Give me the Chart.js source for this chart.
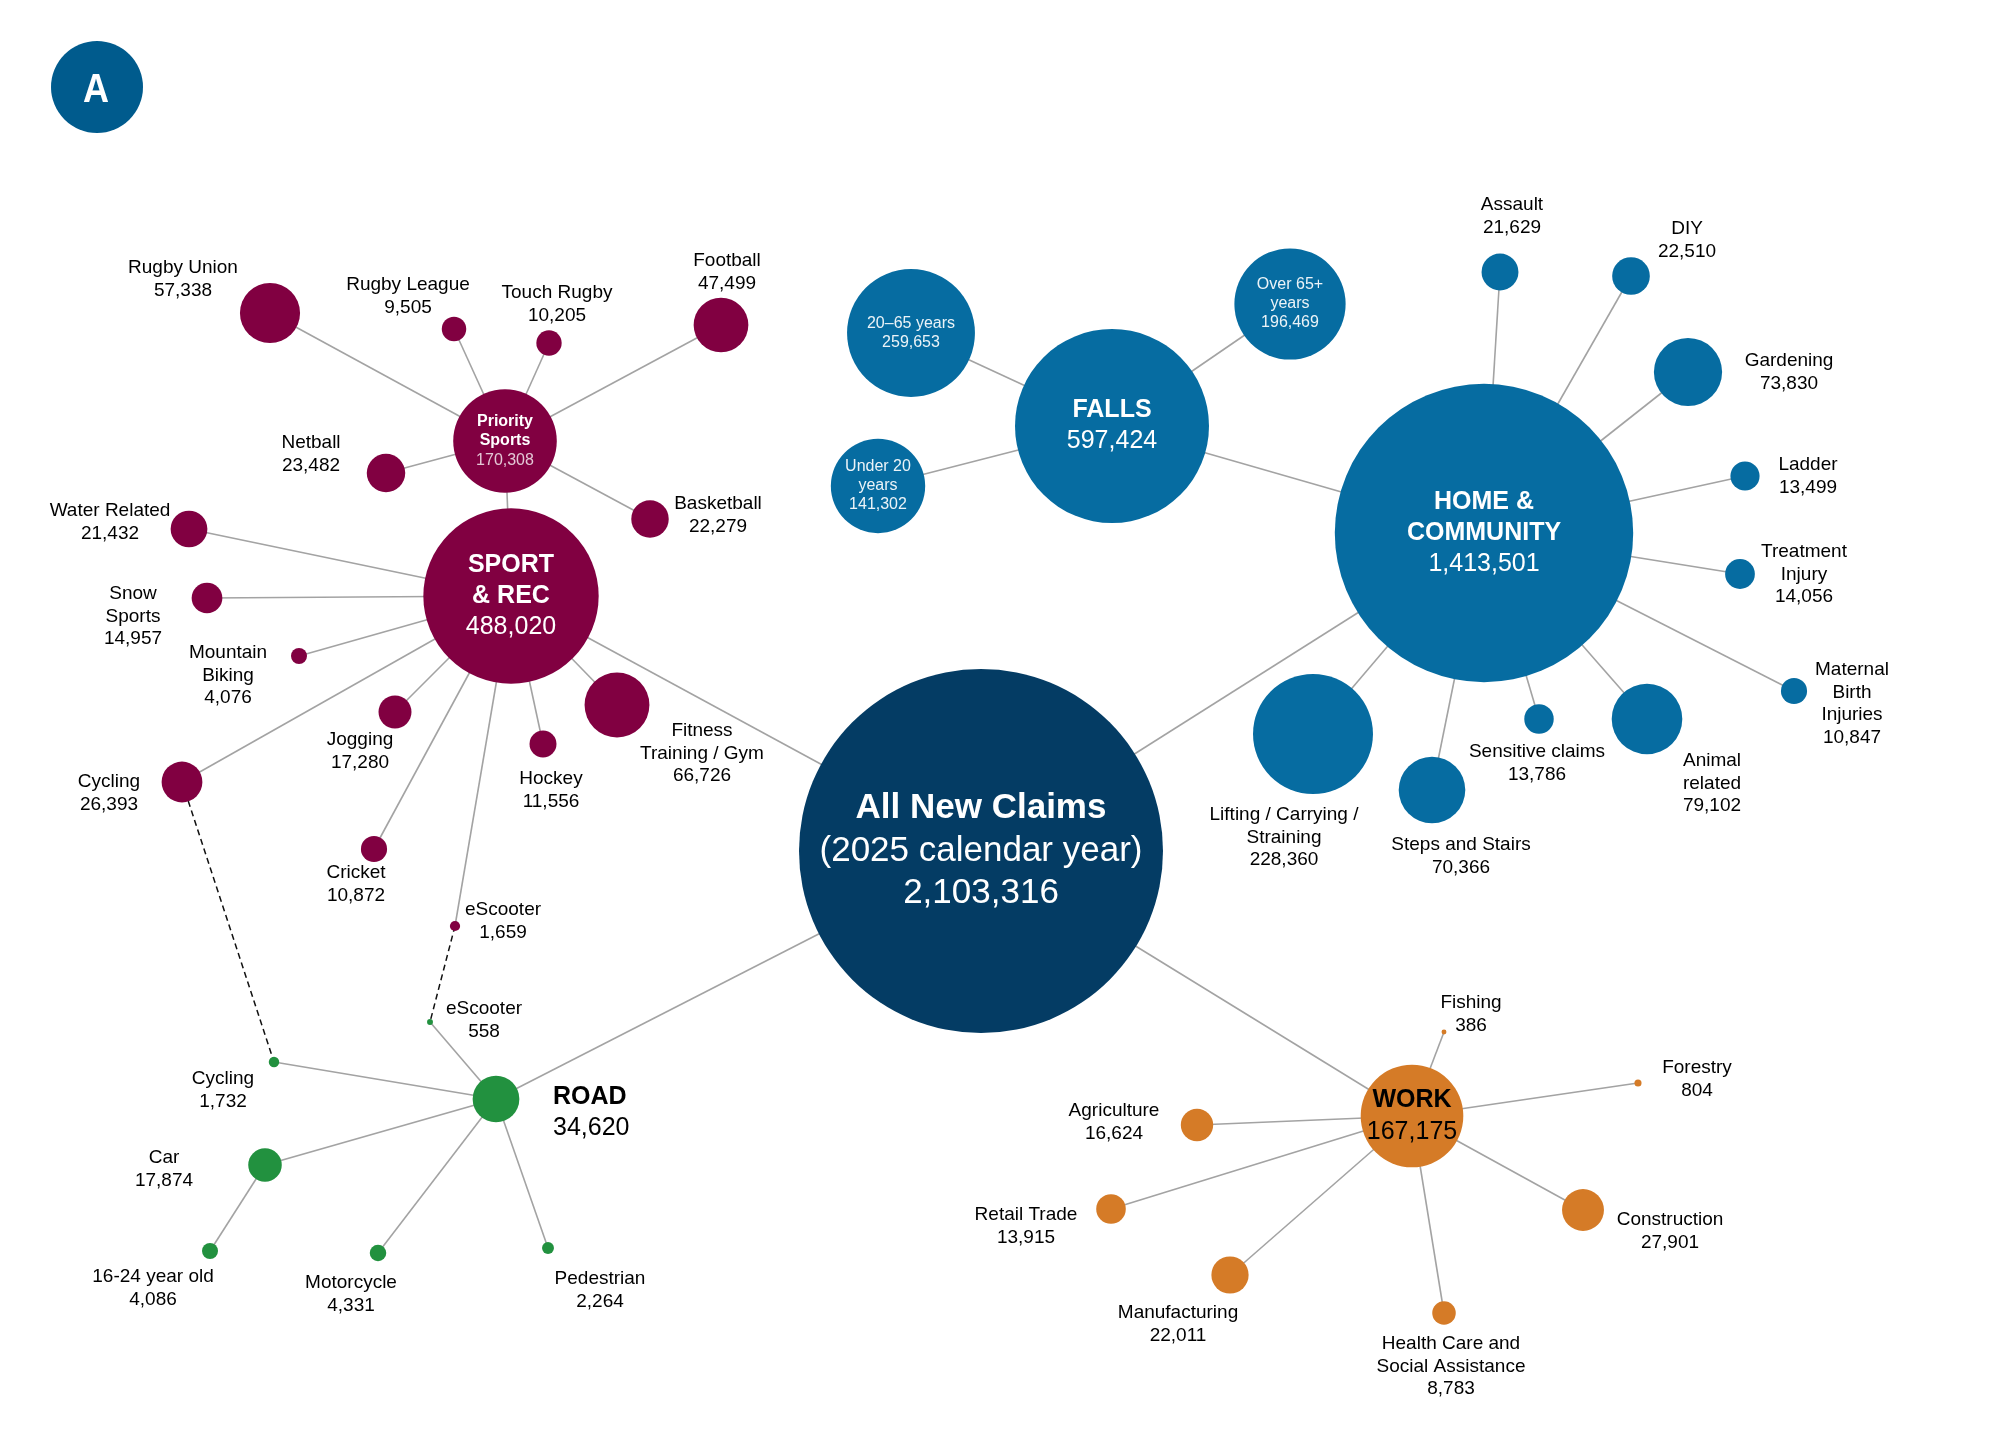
<!DOCTYPE html>
<html>
<head>
<meta charset="utf-8">
<script src="https://cdn.jsdelivr.net/npm/chart.js@4.4.1/dist/chart.umd.min.js"></script>
<style>
  body { margin: 0; background: #fff; }
  #wrap { width: 2000px; height: 1450px; position: relative; }
</style>
</head>
<body>
<div id="wrap"><canvas id="claimsChart"></canvas></div>
<script>
/**
 * Data
 */
const nodeNames = [
    'All New Claims|(2025 calendar year)',
    'HOME &|COMMUNITY', 'FALLS', '20\u201365 years', 'Over 65+|years', 'Under 20|years',
    'Assault', 'DIY', 'Gardening', 'Ladder', 'Treatment|Injury', 'Maternal|Birth|Injuries',
    'Animal|related', 'Sensitive claims', 'Steps and Stairs', 'Lifting / Carrying /|Straining',
    'SPORT|& REC', 'Priority|Sports',
    'Rugby Union', 'Rugby League', 'Touch Rugby', 'Football', 'Netball', 'Basketball',
    'Water Related', 'Snow|Sports', 'Mountain|Biking', 'Cycling', 'Jogging', 'Cricket',
    'Hockey', 'Fitness|Training / Gym', 'eScooter',
    'ROAD', 'Cycling', 'eScooter', 'Car', '16-24 year old', 'Motorcycle', 'Pedestrian',
    'WORK', 'Fishing', 'Forestry', 'Agriculture', 'Retail Trade', 'Construction',
    'Manufacturing', 'Health Care and|Social Assistance',
];
const nodeValues = [
    2103316,
    1413501, 597424, 259653, 196469, 141302,
    21629, 22510, 73830, 13499, 14056, 10847,
    79102, 13786, 70366, 228360,
    488020, 170308,
    57338, 9505, 10205, 47499, 23482, 22279,
    21432, 14957, 4076, 26393, 17280, 10872,
    11556, 66726, 1659,
    34620, 1732, 558, 17874, 4086, 4331, 2264,
    167175, 386, 804, 16624, 13915, 27901,
    22011, 8783,
];
const nodeGroups = [
    'all',
    'home', 'home', 'home', 'home', 'home',
    'home', 'home', 'home', 'home', 'home', 'home',
    'home', 'home', 'home', 'home',
    'sport', 'sport',
    'sport', 'sport', 'sport', 'sport', 'sport', 'sport',
    'sport', 'sport', 'sport', 'sport', 'sport', 'sport',
    'sport', 'sport', 'sport',
    'road', 'road', 'road', 'road', 'road', 'road', 'road',
    'work', 'work', 'work', 'work', 'work', 'work',
    'work', 'work',
];
// index of the node each node hangs from (-1 = root)
const nodeParents = [
    -1,
    0, 1, 2, 2, 2,
    1, 1, 1, 1, 1, 1,
    1, 1, 1, 1,
    0, 16,
    17, 17, 17, 17, 17, 17,
    16, 16, 16, 16, 16, 16,
    16, 16, 16,
    0, 33, 33, 33, 36, 33, 33,
    0, 40, 40, 40, 40, 40,
    40, 40,
];
// sport -> road cross links (dashed)
const crossLinks = [[27, 34], [32, 35]];

/**
 * Layout (position of each node on the 2000 x 1450 sheet)
 */
const nodeX = [
    981,
    1484, 1112, 911, 1290, 878,
    1500, 1631, 1688, 1745, 1740, 1794,
    1647, 1539, 1432, 1313,
    511, 505,
    270, 454, 549, 721, 386, 650,
    189, 207, 299, 182, 395, 374,
    543, 617, 455,
    496, 274, 430, 265, 210, 378, 548,
    1412, 1444, 1638, 1197, 1111, 1583,
    1230, 1444,
];
const nodeY = [
    851,
    533, 426, 333, 304, 486,
    272, 276, 372, 476, 574, 691,
    719, 719, 790, 734,
    596, 441,
    313, 329, 343, 325, 473, 519,
    529, 598, 656, 782, 712, 849,
    744, 705, 926,
    1099, 1062, 1022, 1165, 1251, 1253, 1248,
    1116, 1032, 1083, 1125, 1209, 1210,
    1275, 1313,
];
// label position (centre of first text line); null = centred inside the bubble
const labelX = [
    null,
    null, null, null, null, null,
    1512, 1687, 1789, 1808, 1804, 1852,
    1712, 1537, 1461, 1284,
    null, null,
    183, 408, 557, 727, 311, 718,
    110, 133, 228, 109, 360, 356,
    551, 702, 503,
    553, 223, 484, 164, 153, 351, 600,
    null, 1471, 1697, 1114, 1026, 1670,
    1178, 1451,
];
const labelY = [
    null,
    null, null, null, null, null,
    205, 229, 361, 465, 552, 670,
    761, 752, 845, 815,
    null, null,
    268, 285, 293, 261, 443, 504,
    511, 594, 653, 782, 740, 873,
    779, 731, 910,
    1097, 1079, 1009, 1158, 1277, 1283, 1279,
    null, 1003, 1068, 1111, 1215, 1220,
    1313, 1344,
];

const GROUP_COLORS = {
    all: '#043c64',
    home: '#066ca1',
    sport: '#810041',
    road: '#22913f',
    work: '#d57b27',
};
const LINK_COLOR = '#a3a3a3';
const FONT = "'Liberation Sans', Arial, sans-serif";
const MAX_RADIUS = 182;

//////////////////////////////////////////////////////////////////

/**
 * Bubble radius, area proportional to claims
 */
function radiusOf(value) {
    return Math.max(2, MAX_RADIUS * Math.sqrt(value / nodeValues[0]));
}

/**
 * Text style for a node label
 */
function labelStyle(i) {
    if (i === 0) {
        return { size: 35, gap: 42.5, color: '#fff', bold: 1 };
    }
    if (i === 1 || i === 2 || i === 16) {
        return { size: 25, gap: 31, color: '#fff', bold: 2 };
    }
    if (i === 40) {
        return { size: 25, gap: 32, color: '#000', bold: 1 };
    }
    if (i === 33) {
        return { size: 25, gap: 31, color: '#000', bold: 1, align: 'left' };
    }
    if (i === 17) {
        return { size: 16, gap: 19.5, color: '#fff', bold: 2, numColor: 'rgba(255,255,255,0.78)' };
    }
    if (i >= 3 && i <= 5) {
        return { size: 16, gap: 19, color: 'rgba(255,255,255,0.92)', bold: 0 };
    }
    return { size: 19, gap: 22.5, color: '#000', bold: 0 };
}

/**
 * Plugin: badge + labels
 */
const labelPlugin = {
    id: 'nodeLabels',
    afterDatasetsDraw(chart) {
        const ctx = chart.ctx;
        const xs = chart.scales.x;
        const ys = chart.scales.y;

        // panel badge
        ctx.save();
        ctx.fillStyle = '#005b8d';
        ctx.beginPath();
        ctx.arc(97, 87, 46, 0, Math.PI * 2);
        ctx.fill();
        ctx.fillStyle = '#fff';
        ctx.font = 'bold 40px ' + FONT;
        ctx.textAlign = 'center';
        ctx.textBaseline = 'middle';
        ctx.translate(96, 91);
        ctx.scale(0.9, 1);
        ctx.fillText('A', 0, 0);
        ctx.restore();

        nodeNames.forEach(function (name, i) {
            const st = labelStyle(i);
            const lines = name.split('|');
            lines.push(nodeValues[i].toLocaleString('en-US'));
            let cx, cy;
            if (labelX[i] === null) {
                cx = xs.getPixelForValue(nodeX[i]);
                cy = ys.getPixelForValue(nodeY[i]) - (lines.length - 1) * st.gap / 2;
            } else {
                cx = xs.getPixelForValue(labelX[i]);
                cy = ys.getPixelForValue(labelY[i]);
            }
            ctx.save();
            ctx.textAlign = st.align || 'center';
            ctx.textBaseline = 'middle';
            lines.forEach(function (line, k) {
                const isNum = k === lines.length - 1;
                const bold = k < st.bold && !isNum;
                ctx.font = (bold ? 'bold ' : '') + st.size + 'px ' + FONT;
                ctx.fillStyle = isNum && st.numColor ? st.numColor : st.color;
                ctx.fillText(line, cx, cy + k * st.gap);
            });
            ctx.restore();
        });
    }
};

/**
 * Build datasets
 */
function buildDatasets() {
    const datasets = [];

    // links
    nodeParents.forEach(function (p, i) {
        if (p < 0) return;
        datasets.push({
            type: 'line',
            data: [{ x: nodeX[p], y: nodeY[p] }, { x: nodeX[i], y: nodeY[i] }],
            borderColor: LINK_COLOR,
            borderWidth: 1.6,
            pointRadius: 0,
            order: 2,
        });
    });
    crossLinks.forEach(function (l) {
        datasets.push({
            type: 'line',
            data: [{ x: nodeX[l[0]], y: nodeY[l[0]] }, { x: nodeX[l[1]], y: nodeY[l[1]] }],
            borderColor: '#111',
            borderWidth: 1.5,
            borderDash: [6, 4],
            pointRadius: 0,
            order: 2,
        });
    });

    // bubbles
    datasets.push({
        type: 'bubble',
        data: nodeValues.map(function (v, i) {
            return { x: nodeX[i], y: nodeY[i], r: radiusOf(v) };
        }),
        backgroundColor: nodeGroups.map(function (g) { return GROUP_COLORS[g]; }),
        borderWidth: 0,
        order: 0,
    });
    return datasets;
}

/**
 * Load chart
 */
function loadClaimsChart(id) {
    const config = {
        type: 'bubble',
        data: { datasets: buildDatasets() },
        options: {
            responsive: true,
            maintainAspectRatio: false,
            animation: false,
            events: [],
            layout: { padding: 0, autoPadding: false },
            plugins: {
                legend: { display: false },
                tooltip: { enabled: false },
            },
            scales: {
                x: { type: 'linear', min: 0, max: 2000, display: false },
                y: { type: 'linear', min: 0, max: 1450, reverse: true, display: false },
            },
        },
        plugins: [labelPlugin],
    };
    new Chart(document.getElementById(id), config);
}

loadClaimsChart('claimsChart');
</script>
</body>
</html>
